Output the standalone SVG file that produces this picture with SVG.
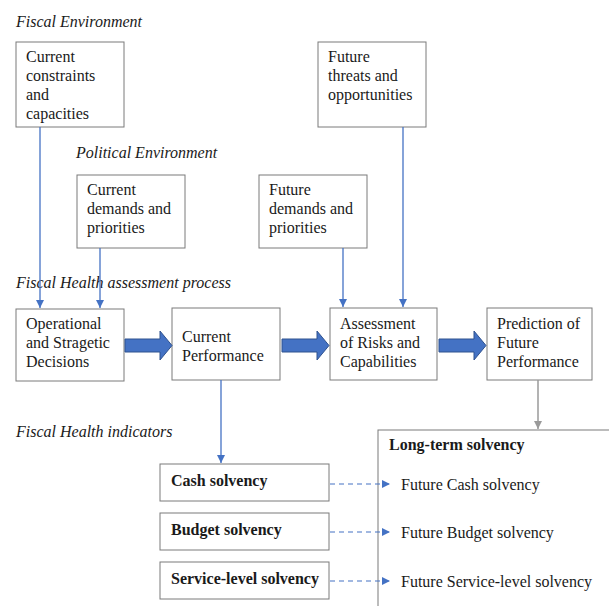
<svg xmlns="http://www.w3.org/2000/svg" width="609" height="606" viewBox="0 0 609 606">
<defs>
<style>
text{font-family:"Liberation Serif","Times New Roman",serif;font-size:16px;fill:#1a1a1a}
.it{font-style:italic}
.b{font-weight:bold}
.box{fill:#fff;stroke:#7a7a7a;stroke-width:1}
.ln{stroke:#4472C4;stroke-width:1.3;fill:none}
.gr{stroke:#9a9a9a;stroke-width:1.5;fill:none}
.dash{stroke:#4472C4;stroke-width:1.2;fill:none;stroke-dasharray:5,4}
.blk{fill:#4472C4;stroke:#2F528F;stroke-width:1}
</style>
<marker id="ab" markerWidth="10" markerHeight="10" refX="9" refY="5" orient="auto" markerUnits="userSpaceOnUse"><path d="M1,1 L9,5 L1,9 Z" fill="#4472C4"/></marker>
<marker id="ag" markerWidth="10" markerHeight="10" refX="9" refY="5" orient="auto" markerUnits="userSpaceOnUse"><path d="M1,1 L9,5 L1,9 Z" fill="#9a9a9a"/></marker>
</defs>

<text class="it" x="16" y="27">Fiscal Environment</text>
<text class="it" x="76" y="158">Political Environment</text>
<text class="it" x="16" y="288">Fiscal Health assessment process</text>
<text class="it" x="16" y="437">Fiscal Health indicators</text>

<g id="n-constraints">
<rect class="box" x="16" y="42" width="108" height="85"/>
<text x="26" y="62">Current</text><text x="26" y="81">constraints</text><text x="26" y="100">and</text><text x="26" y="119">capacities</text>
</g>
<g id="n-threats">
<rect class="box" x="318" y="42" width="108" height="85"/>
<text x="328" y="62">Future</text><text x="328" y="81">threats and</text><text x="328" y="100">opportunities</text>
</g>
<g id="n-curdemands">
<rect class="box" x="77" y="175" width="108" height="73"/>
<text x="87" y="195">Current</text><text x="87" y="214">demands and</text><text x="87" y="233">priorities</text>
</g>
<g id="n-futdemands">
<rect class="box" x="259" y="175" width="108" height="73"/>
<text x="269" y="195">Future</text><text x="269" y="214">demands and</text><text x="269" y="233">priorities</text>
</g>
<g id="n-operational">
<rect class="box" x="16" y="309" width="108" height="72"/>
<text x="26" y="329">Operational</text><text x="26" y="348">and Stragetic</text><text x="26" y="367">Decisions</text>
</g>
<g id="n-curperf">
<rect class="box" x="172" y="308" width="108" height="72"/>
<text x="182" y="342">Current</text><text x="182" y="361">Performance</text>
</g>
<g id="n-assessment">
<rect class="box" x="330" y="308" width="107" height="72"/>
<text x="340" y="329">Assessment</text><text x="340" y="348">of Risks and</text><text x="340" y="367">Capabilities</text>
</g>
<g id="n-prediction">
<rect class="box" x="487" y="308" width="105" height="72"/>
<text x="497" y="329">Prediction of</text><text x="497" y="348">Future</text><text x="497" y="367">Performance</text>
</g>
<g id="n-cash">
<rect class="box" x="160" y="464" width="169" height="37"/>
<text class="b" x="171" y="486">Cash solvency</text>
</g>
<g id="n-budget">
<rect class="box" x="160" y="513" width="169" height="37"/>
<text class="b" x="171" y="535">Budget solvency</text>
</g>
<g id="n-service">
<rect class="box" x="160" y="562" width="169" height="37"/>
<text class="b" x="171" y="584">Service-level solvency</text>
</g>
<g id="n-longterm">
<rect class="box" x="378" y="430" width="300" height="220"/>
<text class="b" x="389" y="450">Long-term solvency</text>
<text x="401" y="490">Future Cash solvency</text>
<text x="401" y="538">Future Budget solvency</text>
<text x="401" y="587">Future Service-level solvency</text>
</g>

<g id="connectors">
<line class="ln" x1="40" y1="127" x2="40" y2="308" marker-end="url(#ab)"/>
<line class="ln" x1="100" y1="248" x2="100" y2="308" marker-end="url(#ab)"/>
<line class="ln" x1="343" y1="248" x2="343" y2="307" marker-end="url(#ab)"/>
<line class="ln" x1="403" y1="127" x2="403" y2="307" marker-end="url(#ab)"/>
<line class="ln" x1="221" y1="380" x2="221" y2="463" marker-end="url(#ab)"/>
<line class="gr" x1="538" y1="380" x2="538" y2="429" marker-end="url(#ag)"/>
<line class="dash" x1="330" y1="484" x2="390" y2="484" marker-end="url(#ab)"/>
<line class="dash" x1="330" y1="532" x2="390" y2="532" marker-end="url(#ab)"/>
<line class="dash" x1="330" y1="581" x2="390" y2="581" marker-end="url(#ab)"/>
<path class="blk" d="M125,339 L160,339 L160,331 L172,345.5 L160,360 L160,352 L125,352 Z"/>
<path class="blk" d="M282,339 L317,339 L317,331 L329,345.5 L317,360 L317,352 L282,352 Z"/>
<path class="blk" d="M439,339 L474,339 L474,331 L486,345.5 L474,360 L474,352 L439,352 Z"/>
</g>
</svg>
